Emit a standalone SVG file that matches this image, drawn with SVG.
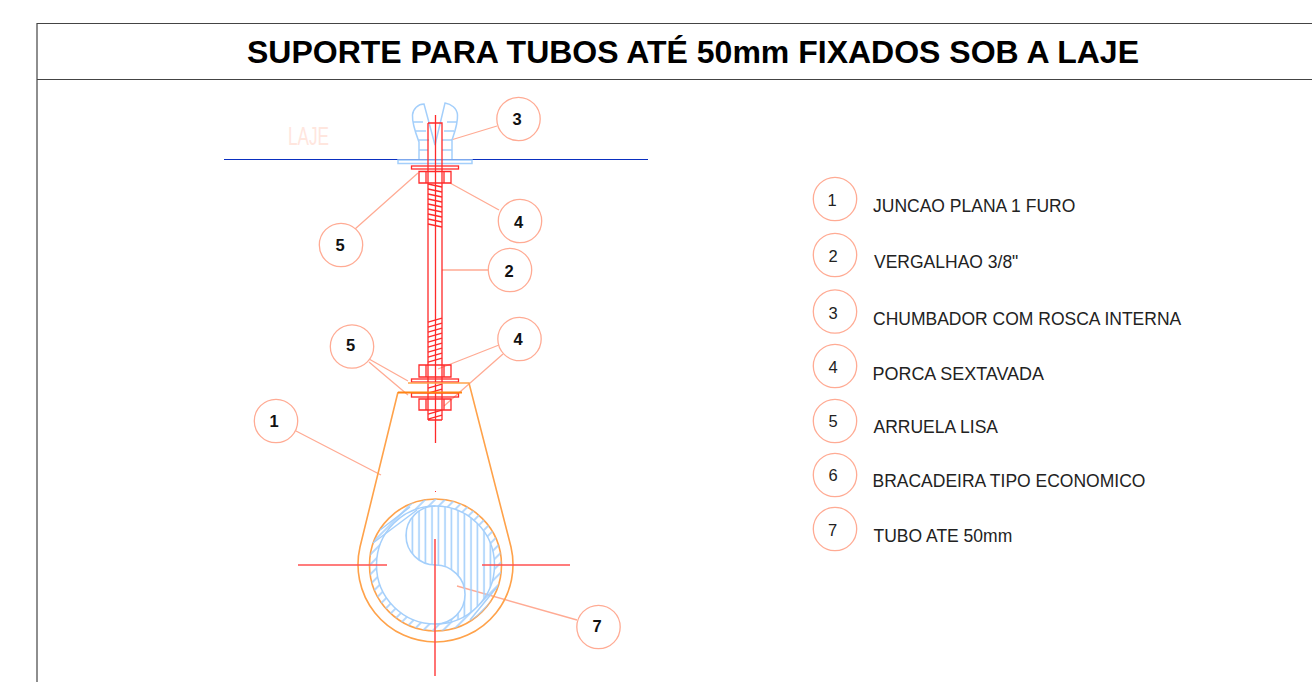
<svg xmlns="http://www.w3.org/2000/svg" width="1312" height="682" viewBox="0 0 1312 682">
<style>
text{font-family:"Liberation Sans",Arial,sans-serif;fill:#222}
.title{font-size:32px;font-weight:700;fill:#000}
.bn{font-size:16.500px;font-weight:700;text-anchor:middle;fill:#111}
.ln{font-size:16.500px;text-anchor:middle}
.lab{font-size:17.500px}
.bub{fill:#fff;stroke:#ffab94;stroke-width:1.300}
.lead{fill:none;stroke:#ffab94;stroke-width:1.300}
.red{fill:none;stroke:#ff2a2a;stroke-width:1.300}
.or{fill:none;stroke:#ffa24a;stroke-width:1.600}
.bl{fill:none;stroke:#a4cffb;stroke-width:1.500}
</style>
<defs>
<clipPath id="sClip"><path d="M435.500 506A29.500 29.500 0 0 0 435.500 565A29.500 29.500 0 0 1 435.500 624A59 59 0 0 0 435.500 506Z"/></clipPath>
<clipPath id="rClip"><path clip-rule="evenodd" d="M369.500 565A66 66 0 1 1 501.500 565A66 66 0 1 1 369.500 565ZM376.500 565A59 59 0 1 0 494.500 565A59 59 0 1 0 376.500 565Z"/></clipPath>
<pattern id="vh" width="6.500" height="10" patternUnits="userSpaceOnUse"><path d="M3 0V10" stroke="#a4cffb" stroke-width="1.600"/></pattern>
<pattern id="dh" width="7" height="9" patternUnits="userSpaceOnUse" patternTransform="rotate(45)"><path d="M3 0V9" stroke="#a4cffb" stroke-width="1.600"/></pattern>
</defs>
<rect width="1312" height="682" fill="#fff"/>
<g id="frame" fill="none" stroke="#444" stroke-width="1.200"><path d="M37 682V23.500H1312M37 79.500H1312"/></g>
<text class="title" x="247" y="62.500" textLength="892" lengthAdjust="spacingAndGlyphs">SUPORTE PARA TUBOS ATÉ 50mm FIXADOS SOB A LAJE</text>
<g id="connectors">
<path class="lead" d="M497 126L451 140M499 210L450 183M355 229L418 173M488 270H442M369 359L408 381M369 362L408 395M499 345L438 369M503 354L444 406M296 431L381 475M577 620L457 586"/>
</g>
<g id="slab"><path d="M224 159.500H648" stroke="#0a2fc0" stroke-width="1"/><text x="288" y="145" style="font-size:26px;fill:#ffe6de" textLength="41" lengthAdjust="spacingAndGlyphs">LAJE</text></g>
<g id="anchor">
<path class="bl" d="M419 159V142C416 134 412 124 412.500 115C413 109 418 104 424 104L435 145L445 103C451 104 457 108 457.500 115C458 124 454 134 452 140V159M413 122H423M415 131H426M418 140H429M419 150H428M457 122H447M454 131H444M452 140H442M452 150H442"/>
<rect class="bl" x="398" y="160" width="74" height="3.500"/>
</g>
<g id="rod">
<path class="red" d="M428 123H442V159M428 123V420M442 159V420M435.500 115V443"/>
<rect class="red" x="411.500" y="166" width="47" height="3"/>
<path class="red" d="M419 171.500H451V183H419ZM426 171.500V183M444 171.500V183"/>
<path class="red" d="M428 184L442 187M428 189L442 192M428 194L442 197M428 199L442 202M428 204L442 207M428 209L442 212M428 214L442 217M428 219L442 222M428 224L442 227"/>
<path class="red" d="M428 322L442 318M428 327L442 323M428 332L442 328M428 337L442 333M428 342L442 338M428 347L442 343M428 352L442 348M428 357L442 353M428 362L442 358"/>
<path class="red" d="M428 388L442 384M428 393L442 389M428 414L442 410M428 419L442 415M428 420H442"/>
<path class="red" d="M419 365H451V377H419ZM426 365V377M444 365V377M419 399H451V410H419ZM426 399V410M444 399V410"/>
<rect class="red" x="411.500" y="379" width="47" height="3"/>
<rect class="red" x="411.500" y="393" width="47" height="4"/>
<path d="M435 299.500h1M435 491.500h1" stroke="#ff3030"/>
</g>
<g id="clamp">
<path class="or" d="M408 383H469L511 547A77.500 77.500 0 1 1 360 547L398 392"/>
<path d="M398 392.500H462" fill="none" stroke="#ff8412" stroke-width="1.800"/>
<circle class="or" cx="435.500" cy="565" r="66"/>
</g>
<g id="pipe">
<circle class="bl" cx="435.500" cy="565" r="59"/>
<path class="bl" d="M435.500 506A29.500 29.500 0 0 0 435.500 565A29.500 29.500 0 0 1 435.500 624"/>
<rect x="376" y="505" width="120" height="120" fill="url(#vh)" clip-path="url(#sClip)"/>
<rect x="369" y="498" width="134" height="134" fill="url(#dh)" clip-path="url(#rClip)"/>
<path class="bl" d="M373 543L417 510M380 530L410 507M470 620L497 587"/>
</g>
<g id="axes"><path d="M298 565H387M482 565H570M435 539V676" stroke="#ff5252" stroke-width="1.600" fill="none"/></g>
<g id="b3"><circle class="bub" cx="518.500" cy="119" r="21.700"/><text class="bn" x="517" y="125">3</text></g>
<g id="b4a"><circle class="bub" cx="520" cy="221" r="21.700"/><text class="bn" x="518.500" y="228">4</text></g>
<g id="b5a"><circle class="bub" cx="341" cy="245" r="21.700"/><text class="bn" x="340" y="251">5</text></g>
<g id="b2"><circle class="bub" cx="510" cy="270" r="21.700"/><text class="bn" x="509" y="277">2</text></g>
<g id="b5b"><circle class="bub" cx="352" cy="346.500" r="21.700"/><text class="bn" x="350.500" y="351">5</text></g>
<g id="b4b"><circle class="bub" cx="519.500" cy="339" r="21.700"/><text class="bn" x="518" y="345">4</text></g>
<g id="b1"><circle class="bub" cx="276" cy="421" r="21.700"/><text class="bn" x="274" y="427">1</text></g>
<g id="b7"><circle class="bub" cx="598.500" cy="627" r="21.700"/><text class="bn" x="597" y="632">7</text></g>
<g id="l1"><circle class="bub" cx="835" cy="199" r="21.700"/><text class="ln" x="832" y="205.500">1</text><text class="lab" x="873" y="212">JUNCAO PLANA 1 FURO</text></g>
<g id="l2"><circle class="bub" cx="835" cy="255" r="21.700"/><text class="ln" x="833" y="262">2</text><text class="lab" x="874" y="268">VERGALHAO 3/8"</text></g>
<g id="l3"><circle class="bub" cx="835" cy="311.500" r="21.700"/><text class="ln" x="833" y="318.500">3</text><text class="lab" x="873" y="325">CHUMBADOR COM ROSCA INTERNA</text></g>
<g id="l4"><circle class="bub" cx="835" cy="366" r="21.700"/><text class="ln" x="833" y="372.500">4</text><text class="lab" x="872.500" y="380" textLength="171.500" lengthAdjust="spacingAndGlyphs">PORCA SEXTAVADA</text></g>
<g id="l5"><circle class="bub" cx="835" cy="421" r="21.700"/><text class="ln" x="833" y="426.500">5</text><text class="lab" x="873.500" y="433">ARRUELA LISA</text></g>
<g id="l6"><circle class="bub" cx="835" cy="475" r="21.700"/><text class="ln" x="833" y="480.500">6</text><text class="lab" x="872.500" y="487">BRACADEIRA TIPO ECONOMICO</text></g>
<g id="l7"><circle class="bub" cx="835" cy="529" r="21.700"/><text class="ln" x="832.500" y="535.500">7</text><text class="lab" x="873.500" y="542">TUBO ATE 50mm</text></g>
</svg>
